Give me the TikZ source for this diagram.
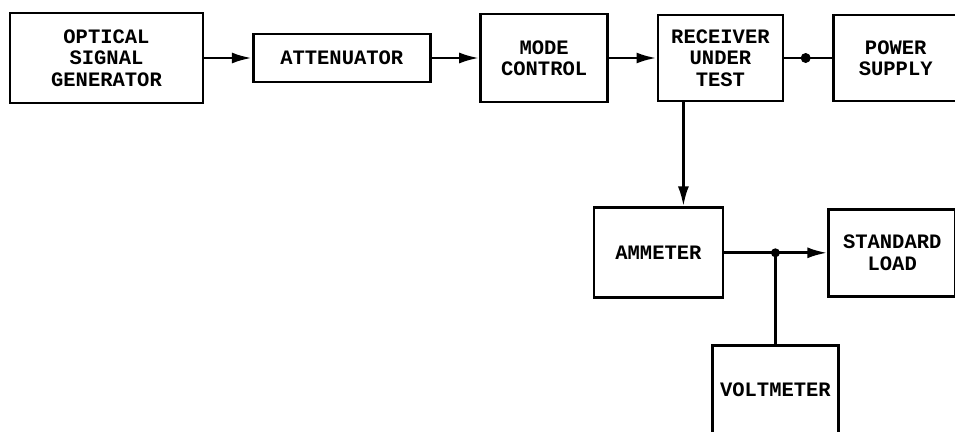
\documentclass[tikz,border=0pt]{standalone}
\usepackage{fontspec}
\setmonofont{Liberation Mono}
\usetikzlibrary{positioning,arrows.meta}

\begin{document}
\begin{tikzpicture}[
  x=1pt, y=-1pt,
  node distance=47.5pt,
  blk/.style={draw, line width=2.8pt, align=center, inner sep=0pt,
    font=\fontsize{20.5}{21.5}\ttfamily\bfseries},
  arr/.style={-{Latex[length=20pt,width=11pt]}, line width=2.8pt},
  wire/.style={line width=2.8pt},
  dotm/.style={circle, fill, inner sep=0pt, minimum size=10pt}
]
\useasboundingbox (0,0) rectangle (955,431);
\fill[white] (0,0) rectangle (955,431);
\node[blk, minimum width=193pt, minimum height=90pt] (osg) at (106.5,58) {OPTICAL\\SIGNAL\\GENERATOR};
\node[blk, minimum width=177pt, minimum height=48pt, right=of osg] (att) {ATTENUATOR};
\node[blk, minimum width=127pt, minimum height=88pt, right=of att] (mode) {MODE\\CONTROL};
\node[blk, minimum width=125pt, minimum height=86pt, right=of mode] (rut) {RECEIVER\\UNDER\\TEST};
\node[blk, minimum width=125pt, minimum height=86pt, right=of rut] (ps) {POWER\\SUPPLY};
\node[blk, minimum width=129pt, minimum height=90pt, below=104pt of rut, xshift=-62pt] (amm) {AMMETER};
\node[blk, minimum width=127pt, minimum height=87pt, right=103pt of amm] (load) {STANDARD\\LOAD};
\node[blk, minimum width=126pt, minimum height=88pt, below=45pt of amm, xshift=117pt] (volt) {VOLTMETER};
\coordinate (jn) at (volt.north |- amm.east);
\draw[arr] (osg) -- (att);
\draw[arr] (att) -- (mode);
\draw[arr] (mode) -- (rut);
\draw[wire] (rut) -- node[dotm, pos=0.45] {} (ps);
\draw[arr] ([xshift=-37pt]rut.south) -- ([xshift=-37pt]rut.south |- amm.north);
\draw[arr] (amm) -- (load);
\draw[wire] (volt) -- (jn);
\fill (jn) circle (4.5pt);
\end{tikzpicture}
\end{document}
